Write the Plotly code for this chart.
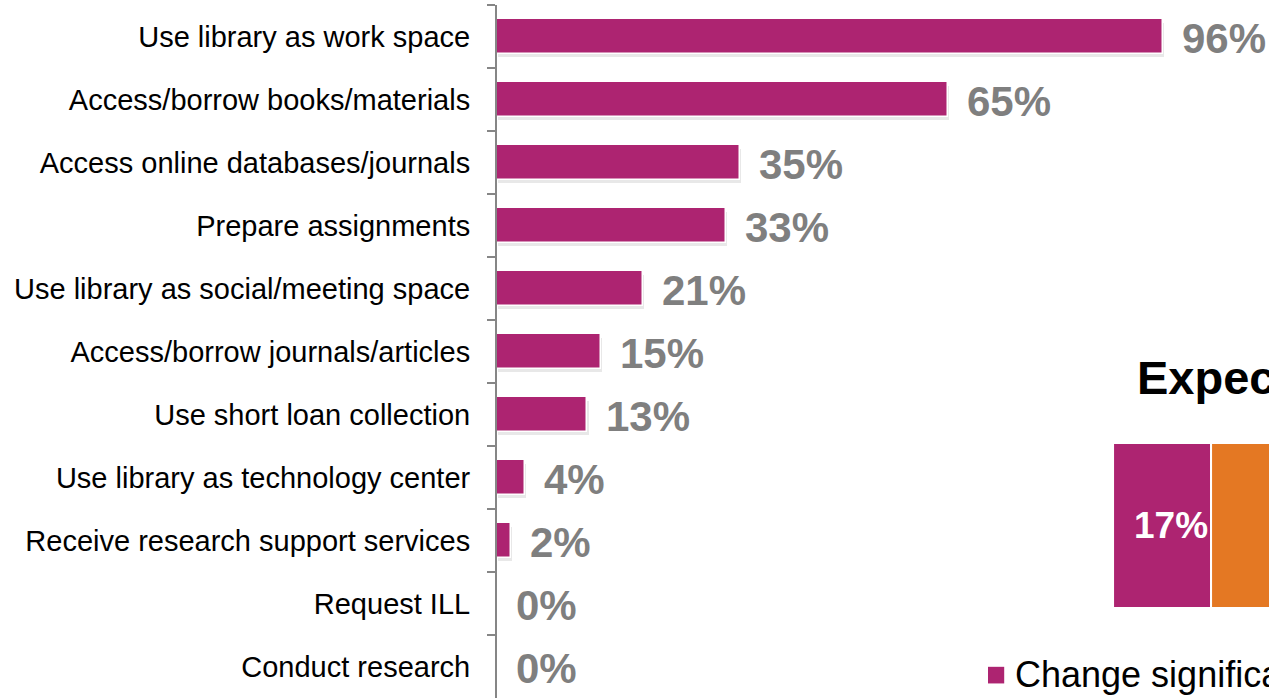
import plotly.graph_objects as go

categories = [
    "Use library as work space",
    "Access/borrow books/materials",
    "Access online databases/journals",
    "Prepare assignments",
    "Use library as social/meeting space",
    "Access/borrow journals/articles",
    "Use short loan collection",
    "Use library as technology center",
    "Receive research support services",
    "Request ILL",
    "Conduct research",
]
values = [96, 65, 35, 33, 21, 15, 13, 4, 2, 0, 0]

right_category = ["Expected change"]
change_significantly = [17]
other_share = [45]  # cut off at the right edge in the reference
right_title = "Expected change"
legend_label = "Change significantly"

MAG = "#AD2471"
ORANGE = "#E47823"
GRAY = "#7F7F7F"
FONT = "Liberation Sans, Arial, sans-serif"

fig = go.Figure()

# soft drop shadow under each bar
fig.add_trace(go.Bar(
    y=categories, x=values, orientation="h", base=0.2,
    width=0.54, offset=-0.21,
    marker=dict(color="rgba(0,0,0,0.09)", line=dict(width=0)),
    hoverinfo="skip", showlegend=False,
))
fig.add_trace(go.Bar(
    y=categories, x=values, orientation="h",
    width=0.54,
    marker=dict(color=MAG, line=dict(color="white", width=1.5)),
    showlegend=False,
))

# right-hand (cropped) stacked bar
fig.add_trace(go.Bar(
    y=right_category, x=change_significantly, orientation="h",
    xaxis="x2", yaxis="y2", width=1,
    marker=dict(color=MAG, line=dict(color="white", width=2)),
    text=[f"{v}%" for v in change_significantly],
    textposition="inside", insidetextanchor="end",
    textfont=dict(color="white", size=37, family=FONT, weight="bold"),
    showlegend=False,
))
fig.add_trace(go.Bar(
    y=right_category, x=other_share, base=change_significantly, orientation="h",
    xaxis="x2", yaxis="y2", width=1,
    marker=dict(color=ORANGE, line=dict(color="white", width=2)),
    showlegend=False,
))

annotations = []
for c, v in zip(categories, values):
    annotations.append(dict(
        x=v, y=c, xref="x", yref="y", text=f"{v}%", showarrow=False,
        xanchor="left", yanchor="middle", xshift=17, yshift=-2,
        font=dict(color=GRAY, size=42, family=FONT, weight="bold"),
    ))
annotations.append(dict(
    x=0.826, y=0.463, xref="paper", yref="paper", text=right_title,
    showarrow=False, xanchor="left", yanchor="middle",
    font=dict(color="black", size=47, family=FONT, weight="bold"),
))
annotations.append(dict(
    x=0.668, y=0.034, xref="paper", yref="paper", text=legend_label,
    showarrow=False, xanchor="left", yanchor="middle",
    font=dict(color="black", size=36, family=FONT),
))

fig.update_layout(
    width=1269, height=699,
    margin=dict(l=497, r=0, t=5, b=1),
    paper_bgcolor="white", plot_bgcolor="white",
    barmode="overlay",
    bargap=0,
    showlegend=False,
    font=dict(family=FONT, color="black"),
    xaxis=dict(visible=False, range=[0, 111.3], fixedrange=True),
    yaxis=dict(
        type="category", categoryorder="array", categoryarray=categories,
        range=[10.5, -0.5],
        showline=True, linecolor="#868686", linewidth=2,
        ticks="outside", ticklen=8, tickwidth=2, tickcolor="#868686",
        tickson="boundaries", ticklabelstandoff=19,
        showgrid=False, zeroline=False,
        tickfont=dict(size=29, color="black", family=FONT),
    ),
    xaxis2=dict(visible=False, domain=[0.798, 1], range=[0, 27.1], anchor="y2"),
    yaxis2=dict(visible=False, domain=[0.130, 0.368], range=[-0.5, 0.5], anchor="x2"),
    annotations=annotations,
    shapes=[dict(
        type="rect", xref="paper", yref="paper",
        x0=0.636, x1=0.657, y0=0.021, y1=0.045,
        fillcolor=MAG, line=dict(width=0),
    )],
)

fig.write_html(
    "out.html",
    config={"displayModeBar": False},
    post_script="document.body.style.margin='0';document.body.style.overflow='hidden';",
)
